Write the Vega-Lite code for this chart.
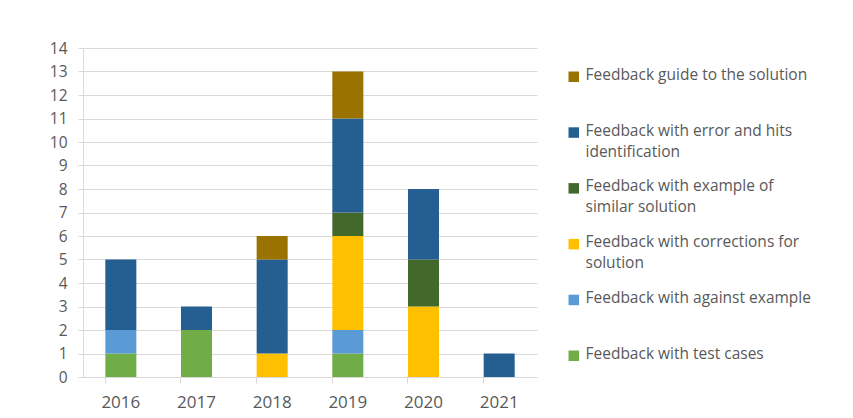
{
  "$schema": "https://vega.github.io/schema/vega-lite/v6.json",
  "width": 454,
  "height": 329,
  "autosize": {"type": "none"},
  "padding": {"left": 83, "top": 48, "right": 316, "bottom": 41},
  "background": "white",
  "config": {
    "view": {"stroke": null},
    "font": "Open Sans",
    "style": {"guide-label": {"lineHeight": 21}}
  },
  "data": {
    "values": [
      {"year": "2016", "type": "Feedback with test cases", "count": 1},
      {"year": "2016", "type": "Feedback with against example", "count": 1},
      {"year": "2016", "type": "Feedback with error and hits identification", "count": 3},
      {"year": "2017", "type": "Feedback with test cases", "count": 2},
      {"year": "2017", "type": "Feedback with error and hits identification", "count": 1},
      {"year": "2018", "type": "Feedback with corrections for solution", "count": 1},
      {"year": "2018", "type": "Feedback with error and hits identification", "count": 4},
      {"year": "2018", "type": "Feedback guide to the solution", "count": 1},
      {"year": "2019", "type": "Feedback with test cases", "count": 1},
      {"year": "2019", "type": "Feedback with against example", "count": 1},
      {"year": "2019", "type": "Feedback with corrections for solution", "count": 4},
      {"year": "2019", "type": "Feedback with example of similar solution", "count": 1},
      {"year": "2019", "type": "Feedback with error and hits identification", "count": 4},
      {"year": "2019", "type": "Feedback guide to the solution", "count": 2},
      {"year": "2020", "type": "Feedback with corrections for solution", "count": 3},
      {"year": "2020", "type": "Feedback with example of similar solution", "count": 2},
      {"year": "2020", "type": "Feedback with error and hits identification", "count": 3},
      {"year": "2021", "type": "Feedback with error and hits identification", "count": 1}
    ]
  },
  "transform": [
    {"calculate": "indexof(['Feedback with test cases','Feedback with against example','Feedback with corrections for solution','Feedback with example of similar solution','Feedback with error and hits identification','Feedback guide to the solution'], datum.type)", "as": "ord"}
  ],
  "mark": {"type": "bar"},
  "encoding": {
    "x": {
      "field": "year",
      "type": "nominal",
      "scale": {"paddingInner": 0.59, "paddingOuter": 0.295},
      "axis": {
        "title": null,
        "labelAngle": 0,
        "labelFontSize": 17,
        "labelColor": "#595959",
        "labelPadding": 11,
        "domainColor": "#d9d9d9",
        "tickColor": "#d9d9d9",
        "tickSize": 6,
        "bandPosition": 0,
        "grid": false
      }
    },
    "y": {
      "field": "count",
      "type": "quantitative",
      "aggregate": "sum",
      "stack": "zero",
      "scale": {"domain": [0, 14]},
      "axis": {
        "title": null,
        "values": [0,1,2,3,4,5,6,7,8,9,10,11,12,13,14],
        "labelFontSize": 15.5,
        "labelColor": "#595959",
        "labelPadding": 11,
        "domain": true,
        "domainColor": "#d9d9d9",
        "tickColor": "#d9d9d9",
        "tickSize": 5,
        "gridColor": "#d9d9d9"
      }
    },
    "order": {"field": "ord", "type": "quantitative", "aggregate": "min"},
    "color": {
      "field": "type",
      "type": "nominal",
      "scale": {
        "domain": ["Feedback guide to the solution", "Feedback with error and hits identification", "Feedback with example of similar solution", "Feedback with corrections for solution", "Feedback with against example", "Feedback with test cases"],
        "range": ["#9a7200", "#255e91", "#43682b", "#ffc000", "#5b9bd5", "#70ad47"]
      },
      "legend": {
        "title": null,
        "orient": "none",
        "legendX": 483,
        "legendY": 21,
        "gridAlign": "all",
        "symbolType": "square",
        "symbolSize": 110,
        "symbolStrokeWidth": 0,
        "symbolOpacity": 1,
        "labelFontSize": 15.5,
        "labelColor": "#595959",
        "labelLimit": 400,
        "labelOffset": 4,
        "rowPadding": 17.8,
        "labelBaseline": "top",
        "encode": {"labels": {"update": {"dy": {"value": -9}}}},
        "labelExpr": "datum.label == 'Feedback with error and hits identification' ? ['Feedback with error and hits', 'identification'] : datum.label == 'Feedback with example of similar solution' ? ['Feedback with example of', 'similar solution'] : datum.label == 'Feedback with corrections for solution' ? ['Feedback with corrections for', 'solution'] : datum.label"
      }
    }
  }
}
